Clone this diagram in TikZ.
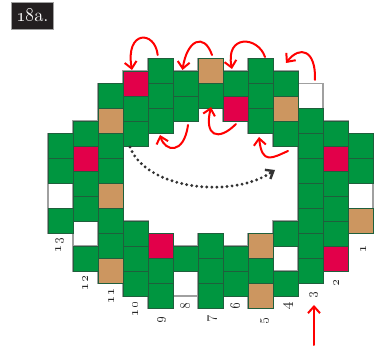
\documentclass[tikz,border=0pt]{standalone}
\usetikzlibrary{arrows.meta}
\definecolor{bgreen}{HTML}{009640}
\definecolor{bred}{HTML}{E2004A}
\definecolor{btan}{HTML}{CC9660}
\definecolor{bline}{HTML}{1F5F3C}
\definecolor{bgray}{HTML}{A0A0A0}
\definecolor{tagblack}{HTML}{231F20}
\tikzset{
  x=0.75pt,y=-0.75pt,
  redarrow/.style={draw=red,line width=1.5pt,line cap=round,-{Straight Barb[length=5pt,width=9pt,line width=1.5pt]}},
  numlabel/.style={rotate=90,font=\fontsize{11pt}{12pt}\selectfont,text=black!85,inner sep=0pt},
}
\def\wcol{white}
\newcommand{\beadgray}[3]{%
  \foreach \c [count=\i from 0] in {#3} {
    \pgfmathsetmacro{\ya}{#2+25*\i}
    \pgfmathsetmacro{\yb}{#2+25*\i+25}
    \draw[bgray,line width=1.1pt] (#1,\ya) rectangle (#1+25,\yb);
  }
}
\newcommand{\beadfill}[3]{%
  \foreach \c [count=\i from 0] in {#3} {
    \pgfmathsetmacro{\ya}{#2+25*\i}
    \pgfmathsetmacro{\yb}{#2+25*\i+25}
    \ifx\c\wcol\else
    \fill[\c] (#1,\ya) rectangle (#1+25,\yb);
    \draw[bline,line width=0.55pt] (#1,\ya) rectangle (#1+25,\yb);
    \fi
  }
}
\newcommand{\allbeads}{%
\beadcol{48}{133.3}{bgreen,bgreen,white,bgreen}
\beadcol{73}{121}{bgreen,bred,bgreen,bgreen,white,bgreen}
\beadcol{98}{83.3}{bgreen,btan,bgreen,bgreen,btan,bgreen,bgreen,btan}
\beadcol{123}{71}{bred,bgreen,bgreen}
\beadcol{123}{221}{bgreen,bgreen,bgreen}
\beadcol{148}{58.5}{bgreen,bgreen,bgreen}
\beadcol{148}{233.7}{bred,bgreen,bgreen}
\beadcol{173}{71}{bgreen,bgreen}
\beadcol{173}{246}{bgreen,white}
\beadcol{198}{58.5}{btan,bgreen}
\beadcol{198}{233.7}{bgreen,bgreen,bgreen}
\beadcol{223}{71}{bgreen,bred}
\beadcol{223}{246}{bgreen,bgreen}
\beadcol{248}{58.5}{bgreen,bgreen,bgreen}
\beadcol{248}{233.7}{btan,bgreen,btan}
\beadcol{273}{71}{bgreen,btan,bgreen}
\beadcol{273}{221}{bgreen,white,bgreen}
\beadcol{298}{83.3}{white,bgreen,bgreen,bgreen,bgreen,bgreen,bgreen,bgreen}
\beadcol{323}{121}{bgreen,bred,bgreen,bgreen,bgreen,bred}
\beadcol{348}{133.3}{bgreen,bgreen,white,btan}
}
\begin{document}
\begin{tikzpicture}
\useasboundingbox (0,0) rectangle (376,346);
% title tag
\node[fill=tagblack,draw=bgray,line width=0.3pt,minimum width=32pt,minimum height=20pt,inner sep=0pt,text=white,font=\fontsize{14pt}{16pt}\selectfont] (tag) at (32.3,15.8) {\oldstylenums{18}a.};
% beads: grey outline first, then fills
\let\beadcol\beadgray \allbeads
\let\beadcol\beadfill \allbeads
% numbers
\node[numlabel] (n13) at (60,245) {\oldstylenums{13}};
\node[numlabel] (n12) at (85,283) {\oldstylenums{12}};
\node[numlabel] (n11) at (111,296) {\oldstylenums{11}};
\node[numlabel] (n10) at (135,309) {\oldstylenums{10}};
\node[numlabel] (n9) at (162,320) {\oldstylenums{9}};
\node[numlabel] (n8) at (186,306) {\oldstylenums{8}};
\node[numlabel] (n7) at (213,319) {\oldstylenums{7}};
\node[numlabel] (n6) at (236,306) {\oldstylenums{6}};
\node[numlabel] (n5) at (265,321) {\oldstylenums{5}};
\node[numlabel] (n4) at (289,306) {\oldstylenums{4}};
\node[numlabel] (n3) at (314,295) {\oldstylenums{3}};
\node[numlabel] (n2) at (336,283) {\oldstylenums{2}};
\node[numlabel] (n1) at (363,249) {\oldstylenums{1}};
% dotted arrow
\draw[draw=black!80,line width=2.4pt,line cap=round,dash pattern=on 0pt off 3.8pt] (130,147) .. controls (145,188) and (230,200) .. (272,172);
\draw[draw=black!80,line width=1.8pt,-{Straight Barb[length=5pt,width=8pt,line width=1.8pt]}] (270,173) -- (275,170);
% red arrows
\draw[redarrow] (157.7,55) .. controls (155,30) and (125,30) .. (132,70);
\draw[redarrow] (212,55) .. controls (204,32) and (187,40) .. (182.5,70);
\draw[redarrow] (265,57) .. controls (258,36) and (225,34) .. (232,69);
\draw[redarrow] (315,80) .. controls (316,50) and (300,45) .. (286,63);
\draw[redarrow] (188,125) .. controls (184,155) and (165,152) .. (160,135);
\draw[redarrow] (236,124) .. controls (218,142) and (204,136) .. (211,107);
\draw[redarrow] (288,151) .. controls (272,158) and (262,165) .. (259,137);
\draw[redarrow] (314,345) -- (314,305);
\end{tikzpicture}
\end{document}
